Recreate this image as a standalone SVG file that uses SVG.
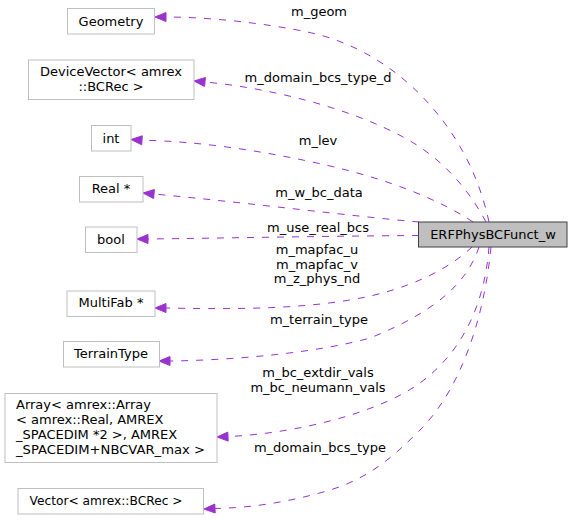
<svg xmlns="http://www.w3.org/2000/svg" width="573" height="520" viewBox="0 0 573 520">
<style>
text { font-family: "DejaVu Sans", "Liberation Sans", sans-serif; font-size: 13px; fill: #000; }
.c { text-anchor: middle; }
.n rect { fill: #ffffff; stroke: #bfbfbf; stroke-width: 1; }
.main rect { fill: #bfbfbf; stroke: #404040; stroke-width: 1; }
.e path { fill: none; stroke: #9a32cd; stroke-width: 1; stroke-dasharray: 7,8; }
.e polygon { fill: #9a32cd; stroke: #9a32cd; stroke-width: 1; }
</style>
<rect width="573" height="520" fill="#ffffff"/>
<g id="edges" class="e">
  <path d="M489,222 C480,180 462,145 440,117 C415,85 375,50 320,35 C290,27 220,17 166,17"/>
  <polygon points="155,17 166,12.5 166,21.5"/>
  <path d="M486,222 C470,192 445,160 405,138 C350,108 270,88 205,82"/>
  <polygon points="194,81 205.4,77.5 204.6,86.5"/>
  <path d="M473,222 C440,200 390,180 330,166 C270,152 200,141 142,140.3"/>
  <polygon points="131,139.5 142.3,135.8 141.7,144.8"/>
  <path d="M419,222 C350,216 250,203 154,194"/>
  <polygon points="143,193 154.4,189.5 153.6,198.5"/>
  <path d="M419,235.5 C330,236 230,238 148,239"/>
  <polygon points="137,239 148,234.5 148,243.5"/>
  <path d="M472,247 C450,268 410,290 350,300 C290,310 220,309 166,308"/>
  <polygon points="155,308 166,303.5 166,312.5"/>
  <path d="M479,247 C468,280 440,310 370,338 C320,352 240,360 170,361"/>
  <polygon points="159,361 170,356.5 170,365.5"/>
  <path d="M489,247 C485,300 465,350 420,383 C380,412 300,433 228,436.6"/>
  <polygon points="217,437 227.8,432.1 228.2,441.1"/>
  <path d="M491,247 C484,320 460,390 420,430 C395,455 370,478 330,490 C290,502 250,508 215,508.5"/>
  <polygon points="204,509 214.8,504 215.2,513"/>
  <text class="c" x="319" y="16">m_geom</text>
  <text class="c" x="318" y="82">m_domain_bcs_type_d</text>
  <text class="c" x="318" y="145">m_lev</text>
  <text class="c" x="319" y="196.5">m_w_bc_data</text>
  <text class="c" x="318" y="232">m_use_real_bcs</text>
  <text class="c" x="317" y="254">m_mapfac_u</text>
  <text class="c" x="317" y="268.5">m_mapfac_v</text>
  <text class="c" x="317" y="283">m_z_phys_nd</text>
  <text class="c" x="319" y="324">m_terrain_type</text>
  <text class="c" x="318" y="377">m_bc_extdir_vals</text>
  <text class="c" x="318" y="391.5">m_bc_neumann_vals</text>
  <text class="c" x="320" y="452">m_domain_bcs_type</text>
</g>
<g id="ERFPhysBCFunct_w" class="main">
  <rect x="418.5" y="222" width="148.5" height="25"/>
  <text class="c" x="493" y="238.5">ERFPhysBCFunct_w</text>
</g>
<g id="Geometry" class="n">
  <rect x="67.5" y="8.5" width="87" height="25.5"/>
  <text class="c" x="111" y="25.5">Geometry</text>
</g>
<g id="DeviceVector" class="n">
  <rect x="28.5" y="60" width="165.5" height="39.5"/>
  <text class="c" x="111" y="76">DeviceVector&lt; amrex</text>
  <text class="c" x="111" y="91">::BCRec &gt;</text>
</g>
<g id="int" class="n">
  <rect x="91.5" y="125.5" width="39.5" height="25.5"/>
  <text class="c" x="111" y="142.5">int</text>
</g>
<g id="Real" class="n">
  <rect x="79.5" y="176.5" width="63.5" height="25.5"/>
  <text class="c" x="111" y="193.3">Real *</text>
</g>
<g id="bool" class="n">
  <rect x="85.5" y="227" width="51.5" height="25.5"/>
  <text class="c" x="111" y="243.5">bool</text>
</g>
<g id="MultiFab" class="n">
  <rect x="67" y="291" width="88" height="25.5"/>
  <text class="c" x="111" y="307">MultiFab *</text>
</g>
<g id="TerrainType" class="n">
  <rect x="63.5" y="341.5" width="96" height="25.5"/>
  <text class="c" x="111" y="358.3">TerrainType</text>
</g>
<g id="Array" class="n">
  <rect x="5" y="393.5" width="212" height="69"/>
  <text x="16" y="408.5">Array&lt; amrex::Array</text>
  <text x="16" y="423.5">&lt; amrex::Real, AMREX</text>
  <text x="16" y="438.5">_SPACEDIM *2 &gt;, AMREX</text>
  <text x="16" y="453.5" textLength="189" lengthAdjust="spacingAndGlyphs">_SPACEDIM+NBCVAR_max &gt;</text>
</g>
<g id="Vector" class="n">
  <rect x="18" y="488.5" width="185.5" height="25.5"/>
  <text x="29.5" y="504.5" textLength="153" lengthAdjust="spacingAndGlyphs">Vector&lt; amrex::BCRec &gt;</text>
</g>
</svg>
